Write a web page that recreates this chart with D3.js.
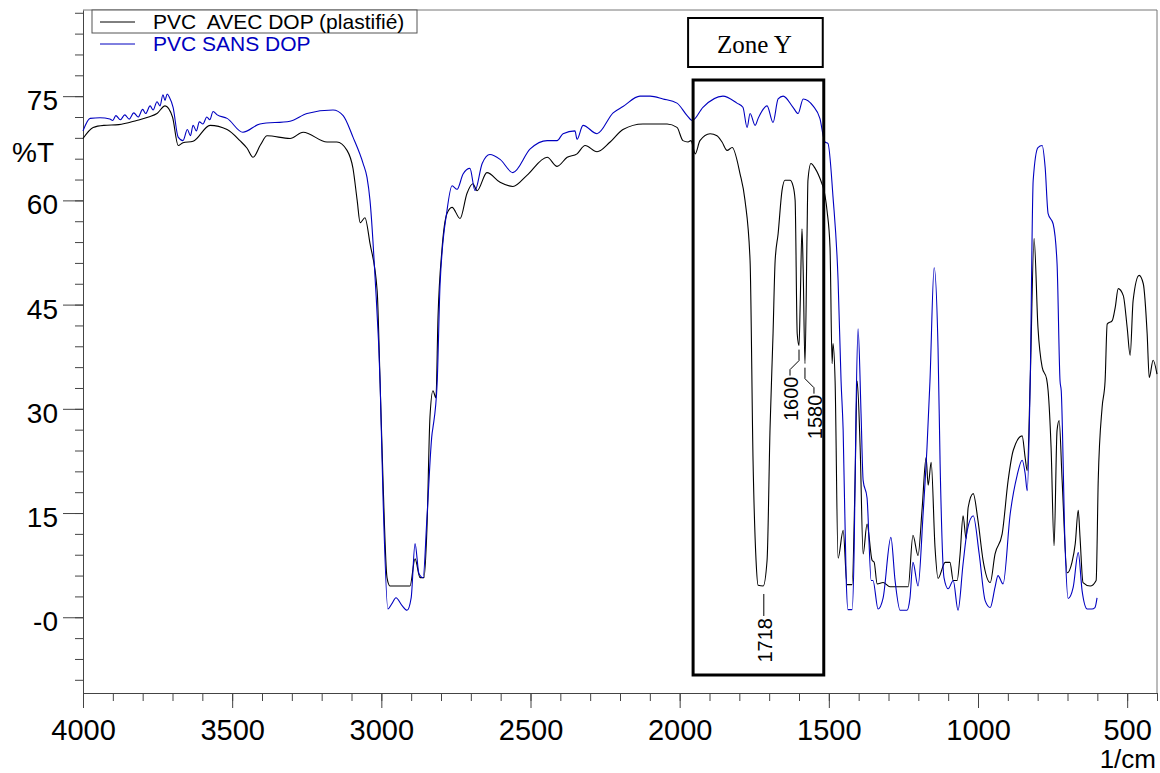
<!DOCTYPE html>
<html lang="fr">
<head>
<meta charset="UTF-8">
<title>Spectre IR PVC avec / sans DOP</title>
<script src="https://d3js.org/d3.v7.min.js"></script>
<style>
  body { margin: 0; background: #fff; }
  svg { display: block; font-family: Arial, "Liberation Sans", sans-serif; }
</style>
</head>
<body>
<div id="chart"></div>
<script>
// [wavenumber (1/cm), %T]
const avecDop = [
  [4000, 68.9], [3966, 70.5], [3930, 70.8], [3880, 70.9], [3820, 71.5], [3780, 72.0],
  [3752, 72.5], [3725, 73.6], [3700, 72.0], [3681, 67.9], [3665, 68.3], [3631, 68.5],
  [3574, 70.8], [3517, 70.2], [3474, 68.6], [3450, 67.5], [3430, 66.2], [3405, 68.0],
  [3383, 69.3], [3306, 68.9], [3262, 69.8], [3182, 68.4], [3149, 68.4], [3115, 67.2],
  [3095, 64.6], [3081, 60.0], [3071, 56.8], [3055, 57.5], [3038, 53.8], [3014, 47.0],
  [3004, 33.6], [2994, 19.2], [2981, 5.7], [2971, 4.5], [2904, 4.5], [2887, 8.4],
  [2870, 5.7], [2857, 5.7], [2847, 12.9], [2837, 28.8], [2827, 32.6], [2817, 31.6],
  [2810, 43.2], [2797, 52.8], [2780, 58.1], [2763, 59.0], [2736, 57.4], [2713, 61.0],
  [2693, 62.4], [2679, 61.4], [2646, 64.0], [2602, 62.6], [2559, 62.0], [2512, 63.6],
  [2444, 66.2], [2411, 64.9], [2377, 66.2], [2344, 66.7], [2317, 67.9], [2277, 67.0],
  [2233, 68.4], [2190, 70.2], [2123, 71.0], [2042, 71.0], [2009, 70.5], [1989, 68.6],
  [1972, 68.4], [1962, 68.6], [1948, 66.7], [1932, 68.6], [1898, 69.6], [1875, 69.3],
  [1858, 68.4], [1841, 67.2], [1824, 67.6], [1798, 63.9], [1781, 60.0], [1764, 51.3],
  [1754, 22.5], [1744, 8.2], [1737, 4.6], [1720, 4.5], [1707, 8.2], [1697, 27.3],
  [1687, 40.8], [1680, 51.3], [1670, 55.2], [1657, 61.4], [1647, 62.9], [1630, 62.9],
  [1620, 62.1], [1613, 60.0], [1606, 40.8], [1600, 39.1], [1596, 45.0], [1590, 55.9],
  [1586, 50.0], [1580, 36.5], [1573, 55.2], [1570, 62.9], [1560, 65.3], [1546, 64.6],
  [1523, 62.4], [1519, 61.9], [1506, 58.5], [1496, 53.2], [1489, 36.5], [1486, 39.4],
  [1479, 34.0], [1469, 8.5], [1452, 12.5], [1439, 4.7], [1422, 4.7], [1412, 19.7],
  [1405, 34.0], [1395, 24.4], [1385, 9.1], [1372, 13.4], [1355, 8.2], [1348, 7.9],
  [1338, 4.8], [1318, 5.0], [1295, 4.4], [1234, 4.4], [1218, 11.8], [1201, 8.9],
  [1187, 15.8], [1174, 23.0], [1167, 19.0], [1157, 22.3], [1144, 10.0], [1134, 5.6],
  [1110, 7.9], [1094, 7.9], [1083, 5.3], [1070, 5.3], [1060, 9.1], [1050, 14.6],
  [1040, 11.3], [1033, 15.8], [1016, 17.8], [1000, 13.9], [983, 8.2], [959, 5.0],
  [943, 9.1], [919, 12.0], [899, 19.7], [882, 24.0], [852, 26.1], [842, 23.0],
  [835, 21.1], [825, 34.0], [812, 54.5], [799, 41.7], [785, 36.0], [770, 34.3],
  [765, 32.6], [755, 24.4], [745, 10.3], [735, 26.9], [728, 28.3], [718, 19.7],
  [701, 6.4], [685, 7.9], [674, 10.6], [664, 15.4], [658, 11.5], [648, 5.0],
  [624, 4.5], [604, 5.3], [597, 19.7], [584, 30.2], [574, 34.0], [567, 42.2],
  [550, 42.7], [540, 44.6], [530, 47.3], [513, 46.3], [500, 41.7], [490, 37.7],
  [480, 45.6], [460, 49.2], [446, 48.0], [433, 40.8], [426, 34.5], [413, 37.0],
  [400, 35.0]
];

const sansDop = [
  [4000, 70.0], [3976, 71.8], [3943, 71.9], [3910, 71.7], [3900, 71.5], [3890, 72.2],
  [3875, 71.6], [3860, 72.3], [3845, 71.7], [3830, 72.6], [3815, 72.0], [3800, 73.1],
  [3790, 72.5], [3775, 73.6], [3765, 73.0], [3752, 74.2], [3742, 73.6], [3732, 75.2],
  [3725, 74.4], [3718, 75.3], [3710, 74.8], [3698, 73.4], [3681, 69.1], [3665, 68.6],
  [3650, 70.2], [3640, 69.3], [3631, 70.8], [3620, 70.0], [3610, 71.3], [3598, 71.0],
  [3585, 72.0], [3575, 71.6], [3564, 72.8], [3550, 72.3], [3517, 71.8], [3464, 69.8],
  [3407, 71.0], [3306, 71.4], [3249, 72.5], [3162, 73.0], [3128, 72.2], [3095, 69.1],
  [3061, 65.3], [3048, 63.3], [3038, 60.0], [3021, 48.9], [3004, 33.6], [2994, 16.8],
  [2978, 1.2], [2964, 2.0], [2951, 2.8], [2931, 1.7], [2914, 1.0], [2900, 2.8],
  [2887, 10.6], [2874, 6.3], [2860, 5.7], [2847, 14.4], [2830, 26.4], [2827, 27.3],
  [2813, 33.6], [2803, 48.0], [2780, 58.5], [2763, 62.1], [2746, 61.6], [2726, 63.8],
  [2703, 64.6], [2686, 61.4], [2662, 65.3], [2636, 66.6], [2602, 65.9], [2559, 64.0],
  [2501, 67.4], [2444, 68.6], [2411, 68.6], [2391, 69.6], [2351, 70.0], [2344, 68.8],
  [2324, 70.8], [2277, 69.6], [2223, 72.6], [2190, 73.5], [2133, 75.0], [2099, 75.0],
  [2056, 74.6], [2009, 74.0], [1975, 72.2], [1958, 71.5], [1922, 73.4], [1855, 75.0],
  [1808, 74.0], [1788, 73.4], [1774, 70.5], [1764, 72.5], [1747, 70.8], [1737, 71.8],
  [1707, 73.6], [1687, 71.2], [1670, 74.6], [1653, 75.0], [1620, 73.4], [1603, 72.5],
  [1586, 74.6], [1553, 73.6], [1530, 71.8], [1513, 68.4], [1503, 68.2], [1486, 60.5],
  [1469, 48.5], [1459, 34.0], [1452, 26.9], [1442, 5.7], [1436, 1.1], [1422, 1.1],
  [1415, 10.0], [1409, 29.3], [1402, 41.5], [1392, 29.3], [1385, 19.7], [1372, 17.2],
  [1358, 5.3], [1352, 5.3], [1335, 1.2], [1318, 2.8], [1292, 11.5], [1278, 5.3],
  [1261, 1.0], [1238, 1.0], [1228, 2.8], [1218, 7.9], [1201, 4.5], [1184, 14.9],
  [1171, 24.4], [1161, 34.0], [1147, 50.3], [1134, 38.8], [1127, 22.1], [1114, 5.7],
  [1100, 4.1], [1083, 5.3], [1067, 1.0], [1050, 7.7], [1036, 12.5], [1016, 14.6],
  [996, 9.1], [976, 2.4], [959, 1.4], [943, 4.3], [933, 6.0], [916, 4.8],
  [892, 14.9], [869, 20.4], [852, 22.6], [842, 20.7], [835, 18.2], [825, 34.0],
  [815, 62.9], [799, 67.6], [785, 67.9], [775, 64.8], [765, 58.1], [748, 56.6],
  [735, 50.9], [725, 34.0], [721, 32.6], [708, 10.0], [698, 2.7], [681, 4.3],
  [664, 9.3], [651, 3.8], [634, 1.2], [618, 1.2], [608, 1.4], [601, 2.8]
];

const seriesNames = ["PVC  AVEC DOP (plastifié)", "PVC SANS DOP"];
const seriesColors = ["#000000", "#0000c0"];
const xMajorTicks = [4000, 3500, 3000, 2500, 2000, 1500, 1000, 500];
const yMajorTicks = [0, 15, 30, 45, 60, 75];
const zoneRange = [1955, 1517];
const peakWavenumbers = [1718, 1600, 1580];
const peakTransmittance = [4.5, 39.1, 36.5];

const width = 1160;
const height = 773;
const plot = { left: 83, right: 1157, top: 10, bottom: 693 };

const x = d3.scaleLinear().domain([4000, 400]).range([plot.left, plot.right]);
const y = d3.scaleLinear().domain([-10.9, 87.4]).range([plot.bottom, plot.top]);

const svg = d3.select("#chart")
  .append("svg")
  .attr("width", width)
  .attr("height", height);

// frame top and right
svg.append("path")
  .attr("d", `M${plot.left},${plot.top}H${plot.right}V${plot.bottom}`)
  .attr("fill", "none")
  .attr("stroke", "#777")
  .attr("stroke-width", 1);

// minor ticks
svg.append("g")
  .attr("transform", `translate(0,${plot.bottom})`)
  .call(d3.axisBottom(x).tickValues(d3.range(400, 4001, 100)).tickSize(8).tickFormat(""))
  .call(g => g.select(".domain").remove());

svg.append("g")
  .attr("transform", `translate(${plot.left},0)`)
  .call(d3.axisLeft(y).tickValues(d3.range(-9, 88, 3)).tickSize(8).tickFormat(""))
  .call(g => g.select(".domain").remove());

// major axes
const xAxis = svg.append("g")
  .attr("transform", `translate(0,${plot.bottom})`)
  .call(d3.axisBottom(x).tickValues(xMajorTicks).tickSize(15).tickPadding(11).tickSizeOuter(0)
    .tickFormat(d3.format("d")));
xAxis.selectAll("text").attr("font-size", 29).attr("font-family", "Arial, 'Liberation Sans', sans-serif");

const yAxis = svg.append("g")
  .attr("transform", `translate(${plot.left},0)`)
  .call(d3.axisLeft(y).tickValues(yMajorTicks).tickSize(20).tickPadding(5).tickSizeOuter(0)
    .tickFormat(d => d === 0 ? "-0" : d));
yAxis.selectAll("text").attr("font-size", 28).attr("dy", "0.48em")
  .attr("font-family", "Arial, 'Liberation Sans', sans-serif");

svg.selectAll(".tick line").attr("stroke", "#444");
svg.selectAll(".domain").attr("stroke", "#444");
svg.selectAll(".tick text").attr("fill", "#000");

svg.append("text")
  .attr("x", 12)
  .attr("y", 162)
  .attr("font-size", 28)
  .text("%T");

svg.append("text")
  .attr("x", plot.right - 1)
  .attr("y", 768)
  .attr("text-anchor", "end")
  .attr("font-size", 26)
  .text("1/cm");

// spectra
const line = d3.line()
  .x(d => x(d[0]))
  .y(d => y(d[1]))
  .curve(d3.curveMonotoneX);

[avecDop, sansDop].forEach((data, i) => {
  svg.append("path")
    .datum(data)
    .attr("fill", "none")
    .attr("stroke", seriesColors[i])
    .attr("stroke-width", 1.1)
    .attr("stroke-linejoin", "round")
    .attr("d", line);
});

// legend
svg.append("rect")
  .attr("x", 92).attr("y", plot.top)
  .attr("width", 325).attr("height", 23)
  .attr("fill", "#fff")
  .attr("stroke", "#555");

seriesNames.forEach((name, i) => {
  const ly = 22 + i * 22;
  svg.append("line")
    .attr("x1", 100).attr("x2", 135)
    .attr("y1", ly).attr("y2", ly)
    .attr("stroke", seriesColors[i]);
  svg.append("text")
    .attr("x", 153).attr("y", ly + 7)
    .attr("font-size", 21)
    .attr("fill", seriesColors[i])
    .style("white-space", "pre")
    .text(name);
});

// Zone Y
const zx0 = x(zoneRange[0]);
const zx1 = x(zoneRange[1]);
svg.append("rect")
  .attr("x", zx0).attr("y", 80)
  .attr("width", zx1 - zx0).attr("height", 675 - 80)
  .attr("fill", "none")
  .attr("stroke", "#000")
  .attr("stroke-width", 3);

svg.append("rect")
  .attr("x", zx0 - 5).attr("y", 18)
  .attr("width", zx1 - zx0 + 4).attr("height", 49)
  .attr("fill", "#fff")
  .attr("stroke", "#000")
  .attr("stroke-width", 2);

svg.append("text")
  .attr("x", (zx0 + zx1) / 2 - 4)
  .attr("y", 53)
  .attr("text-anchor", "middle")
  .attr("font-family", "'Liberation Serif', 'Times New Roman', serif")
  .attr("font-size", 25)
  .text("Zone Y");

// peak labels
const leaderShift = [0, -9, 9];
peakWavenumbers.forEach((wn, i) => {
  const px = x(wn);
  const py = y(peakTransmittance[i]);
  const tx = px + leaderShift[i];
  let pts, textTop;
  if (leaderShift[i] === 0) {
    pts = [[px, py + 8], [px, py + 30]];
    textTop = py + 32;
  } else {
    pts = [[px, py + 4], [px, py + 15], [tx, py + 24], [tx, py + 30]];
    textTop = py + 31;
  }
  svg.append("path")
    .attr("d", d3.line()(pts))
    .attr("fill", "none")
    .attr("stroke", "#000")
    .attr("stroke-width", 1);
  svg.append("text")
    .attr("transform", `translate(${tx + 8},${textTop}) rotate(-90)`)
    .attr("text-anchor", "end")
    .attr("font-size", 20)
    .text(peakWavenumbers[i]);
});
</script>
</body>
</html>
